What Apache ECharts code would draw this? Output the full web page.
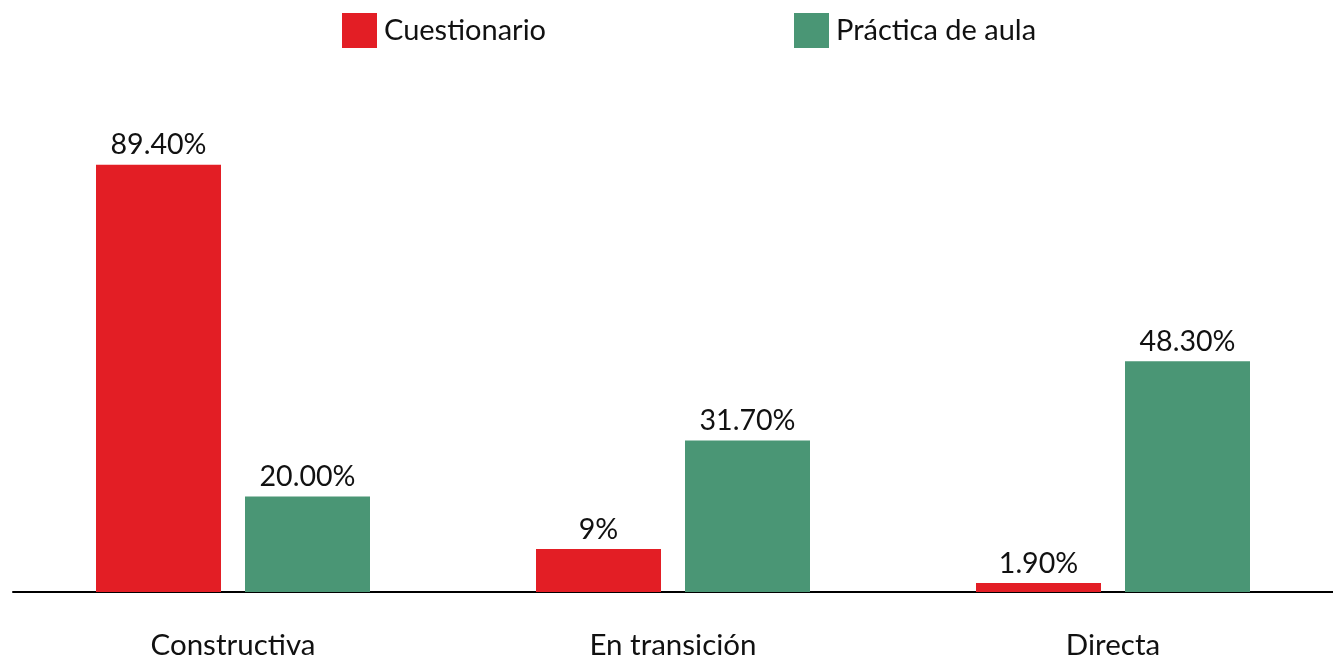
<!DOCTYPE html>
<html>
<head>
<meta charset="utf-8">
<script src="https://cdn.jsdelivr.net/npm/echarts@6/dist/echarts.min.js"></script>
<style>
html,body{margin:0;padding:0;background:#fff;}
#chart{width:1333px;height:658px;}
</style>
</head>
<body>
<div id="chart"></div>
<script>
const categories = ["Constructiva", "En transición", "Directa"];
const seriesNames = ["Cuestionario", "Práctica de aula"];
const cuestionario = [89.4, 9, 1.9];
const practica = [20.0, 31.7, 48.3];
const valueLabels1 = ["89.40%", "9%", "1.90%"];
const valueLabels2 = ["20.00%", "31.70%", "48.30%"];

const FONT = 'Lato';
const chart = echarts.init(document.getElementById('chart'));
function lbl(arr){
  return {
    show: true, position: 'top', distance: 5,
    fontFamily: FONT, fontSize: 28.6, color: '#111',
    formatter: p => arr[p.dataIndex]
  };
}
chart.setOption({
  animation: false,
  legend: [
    {data:[seriesNames[0]], left:342, top:13, padding:0, itemWidth:35, itemHeight:35, itemGap:0,
     textStyle:{fontFamily:FONT, fontSize:29, color:'#111', padding:[2,0,0,2]}, icon:'rect'},
    {data:[seriesNames[1]], left:794, top:13, padding:0, itemWidth:35, itemHeight:35, itemGap:0,
     textStyle:{fontFamily:FONT, fontSize:29, color:'#111', padding:[2,0,0,2]}, icon:'rect'}
  ],
  grid: {left:13, right:0, top:114, bottom:66, containLabel:false, outerBoundsMode:'none'},
  xAxis: {
    type:'category', data:categories,
    axisLine:{show:true, lineStyle:{color:'#000', width:2}},
    axisTick:{show:false},
    axisLabel:{fontFamily:FONT, fontSize:29.5, color:'#111', margin:38}
  },
  yAxis: {type:'value', min:0, max:100, show:false, splitLine:{show:false}},
  series: [
    {name:seriesNames[0], type:'bar', data:cuestionario, barWidth:125, barGap:'19.2%',
     itemStyle:{color:'#E31E25'}, label:lbl(valueLabels1)},
    {name:seriesNames[1], type:'bar', data:practica, barWidth:125,
     itemStyle:{color:'#4A9675'}, label:lbl(valueLabels2)}
  ]
});
</script>
</body>
</html>
